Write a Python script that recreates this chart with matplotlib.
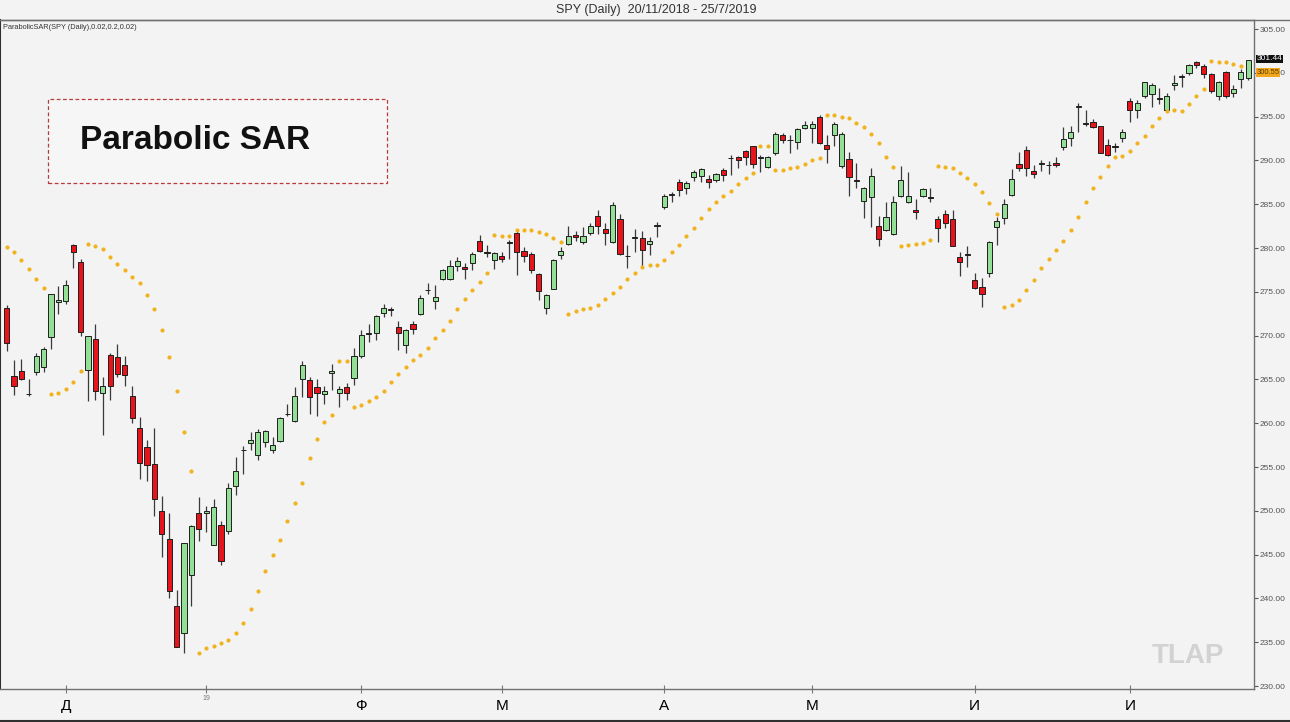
import numpy as np
import matplotlib
matplotlib.use("Agg")
import matplotlib.pyplot as plt
from matplotlib.patches import Rectangle
from matplotlib.lines import Line2D
import matplotlib.transforms as mtransforms

plt.rcParams['font.family'] = ['Liberation Sans', 'DejaVu Sans']

# 0. Data (SPY daily)
opens = [273.2, 265.4, 266.0, 263.35, 265.9, 266.4, 269.8, 273.8, 273.9, 280.4,
         278.4, 266.1, 269.6, 263.5, 267.8, 267.6, 266.7, 263.1, 259.5, 257.3,
         255.3, 250.0, 246.8, 239.1, 236.1, 242.7, 249.7, 249.7, 246.1, 248.4,
         247.7, 252.8, 256.9, 257.7, 256.4, 257.9, 256.9, 258.0, 261.0, 260.2,
         265.1, 264.9, 264.1, 263.3, 265.7, 263.5, 264.1, 265.2, 267.7, 270.2,
         270.3, 272.6, 272.9, 271.0, 268.9, 271.3, 272.5, 275.17, 274.0, 276.5,
         276.5, 277.9, 277.8, 278.3, 280.8, 279.5, 278.6, 279.1, 280.62, 281.7,
         279.7, 279.3, 277.0, 273.1, 275.3, 279.2, 280.5, 281.5, 280.7, 281.7,
         283.7, 282.2, 280.7, 283.3, 279.12, 281.1, 281.2, 280.5, 282.5, 284.7,
         286.05, 287.5, 286.9, 288.1, 288.2, 287.9, 287.8, 288.9, 290.22, 290.4,
         291.1, 291.6, 290.27, 289.2, 290.8, 292.9, 292.29, 292.1, 293.7, 293.7,
         294.9, 291.8, 292.9, 289.4, 290.2, 287.73, 285.4, 285.8, 282.5, 282.1,
         281.6, 285.9, 285.3, 284.3, 285.9, 285.75, 283.3, 283.9, 283.3, 279.0,
         279.31, 276.4, 275.5, 277.2, 282.4, 283.4, 286.1, 289.6, 291.2, 288.8,
         289.63, 289.44, 289.7, 291.5, 292.6, 296.1, 294.27, 294.4, 293.9, 291.8,
         291.6, 292.6, 296.8, 295.8, 297.3, 297.6, 297.12, 295.7, 298.6, 299.52,
         300.0, 301.2, 300.8, 299.9, 297.3, 300.1, 297.7, 299.3, 299.4]
highs = [273.5, 267.2, 267.3, 265.0, 268.0, 268.7, 274.8, 275.7, 276.4, 280.5,
         278.8, 270.0, 271.3, 265.3, 268.0, 269.1, 267.7, 264.2, 260.7, 258.1,
         259.5, 251.7, 249.8, 241.0, 246.3, 248.4, 251.6, 250.5, 251.4, 248.8,
         253.2, 256.1, 257.4, 259.0, 259.3, 259.2, 258.4, 260.7, 262.2, 264.1,
         267.1, 265.3, 265.0, 264.3, 266.8, 264.2, 264.6, 268.6, 270.6, 271.3,
         272.4, 273.6, 273.3, 271.7, 270.7, 271.7, 274.6, 276.0, 275.8, 277.6,
         278.6, 279.0, 278.3, 279.6, 281.5, 280.4, 279.6, 279.6, 280.9, 281.9,
         280.1, 279.6, 277.1, 274.8, 278.7, 280.1, 282.5, 281.9, 282.4, 282.8,
         284.3, 282.8, 285.3, 283.9, 280.3, 282.2, 281.9, 281.3, 283.0, 286.2,
         286.4, 287.9, 287.6, 288.9, 289.1, 288.3, 288.6, 289.1, 290.6, 290.5,
         291.2, 291.6, 290.6, 290.5, 293.3, 293.1, 292.9, 293.7, 294.5, 294.5,
         295.2, 292.9, 294.4, 293.3, 291.0, 289.7, 287.0, 289.1, 283.6, 285.3,
         285.9, 289.4, 288.7, 285.6, 286.9, 286.8, 283.6, 284.3, 284.3, 279.6,
         280.2, 277.2, 276.6, 280.8, 283.5, 285.6, 289.0, 291.0, 291.6, 289.5,
         290.1, 289.9, 290.4, 293.8, 293.9, 296.5, 295.8, 294.7, 293.9, 292.4,
         292.0, 293.6, 297.1, 296.9, 299.0, 298.8, 298.3, 297.7, 299.8, 299.9,
         301.0, 301.4, 301.0, 300.0, 299.1, 300.2, 298.6, 300.4, 301.5]
lows = [268.2, 263.2, 264.9, 263.1, 265.5, 265.8, 268.5, 272.5, 273.6, 277.7,
        270.0, 262.5, 262.7, 258.7, 262.6, 265.3, 264.2, 260.0, 253.6, 253.4,
        249.4, 244.7, 240.1, 234.4, 233.8, 239.1, 246.6, 247.6, 246.1, 243.8,
        247.4, 251.8, 254.2, 256.9, 255.8, 257.3, 256.6, 257.9, 260.8, 260.1,
        263.0, 261.1, 260.8, 262.2, 263.8, 261.9, 262.6, 264.4, 267.4, 269.3,
        269.5, 272.1, 272.2, 268.4, 268.0, 270.2, 272.4, 274.8, 273.0, 276.3,
        276.4, 277.4, 276.5, 277.5, 279.6, 279.0, 277.6, 278.4, 278.8, 276.9,
        278.4, 277.1, 274.1, 272.5, 275.3, 278.8, 280.4, 280.8, 280.5, 281.5,
        281.6, 280.4, 280.6, 279.2, 277.7, 279.6, 277.9, 279.2, 281.3, 284.4,
        285.3, 285.9, 286.2, 287.6, 287.5, 286.8, 287.5, 287.7, 288.3, 289.1,
        289.5, 289.1, 288.7, 289.1, 290.6, 292.0, 290.8, 291.3, 293.6, 292.0,
        291.9, 289.7, 291.6, 289.1, 285.9, 286.9, 283.4, 282.4, 280.2, 282.0,
        281.5, 285.8, 285.1, 283.3, 285.8, 285.3, 280.7, 282.3, 280.2, 276.8,
        277.8, 275.3, 273.3, 276.7, 280.4, 282.7, 285.9, 288.8, 288.2, 288.0,
        288.8, 288.5, 289.3, 291.2, 291.6, 293.3, 293.9, 293.7, 290.8, 290.5,
        291.0, 292.1, 294.4, 294.8, 297.1, 296.1, 296.4, 295.6, 298.0, 298.4,
        299.8, 300.5, 299.4, 297.7, 296.9, 297.1, 297.2, 298.3, 299.2]
closes = [269.2, 264.2, 265.1, 263.3, 267.7, 268.5, 274.7, 274.1, 275.8, 279.5,
          270.4, 270.0, 263.7, 264.2, 264.2, 265.6, 265.5, 260.6, 255.5, 255.2,
          251.4, 247.4, 240.8, 234.5, 246.3, 248.3, 247.9, 250.0, 250.4, 244.3,
          252.6, 254.5, 257.0, 258.1, 259.0, 259.1, 257.5, 260.6, 261.1, 263.1,
          266.6, 263.0, 263.5, 263.7, 266.0, 263.9, 263.5, 267.7, 270.1, 270.3,
          272.2, 273.2, 273.0, 270.3, 270.6, 270.7, 274.3, 275.24, 274.4, 277.5,
          277.9, 278.5, 277.6, 279.3, 279.7, 279.4, 279.4, 278.8, 280.68, 279.5,
          279.1, 277.5, 275.1, 274.6, 278.6, 279.7, 281.4, 281.3, 281.4, 282.5,
          282.5, 281.7, 284.9, 279.3, 279.05, 281.25, 279.8, 280.8, 282.6, 285.9,
          286.2, 286.6, 287.4, 288.7, 289.0, 287.5, 288.5, 288.3, 290.3, 290.1,
          290.4, 289.6, 290.35, 290.4, 293.0, 292.3, 292.37, 293.6, 294.0, 294.2,
          292.0, 291.3, 294.2, 293.0, 288.1, 287.65, 286.8, 288.2, 281.0, 283.5,
          285.2, 287.8, 285.9, 284.1, 286.7, 285.7, 282.3, 282.9, 280.2, 278.4,
          279.25, 275.4, 274.8, 280.7, 283.1, 285.0, 287.9, 289.1, 289.1, 288.5,
          289.7, 289.5, 289.5, 292.5, 293.3, 296.2, 294.19, 293.8, 290.9, 290.6,
          291.55, 293.2, 295.8, 296.6, 298.9, 298.6, 297.05, 297.3, 298.8, 299.6,
          300.9, 300.9, 299.9, 297.9, 299.0, 297.4, 298.1, 300.1, 301.44]

# Parabolic SAR (0.02, 0.2, 0.02) dots
sar = [280.1, 279.5, 278.6, 277.6, 276.5, 275.4,
       263.3, 263.5, 263.9, 264.7, 266.0,
       280.5, 280.2, 279.9, 279.0, 278.2, 277.5, 276.7, 276.0, 274.6, 273.0,
       270.6, 267.6, 263.7, 259.0, 254.5,
       233.8, 234.3, 234.6, 234.9, 235.3, 236.0, 237.2, 238.8, 240.9, 243.1,
       245.0, 246.7, 248.8, 250.9, 253.2, 256.0, 258.2, 260.1,
       260.9,
       267.1, 267.1,
       261.9, 262.1, 262.5, 263.0, 263.7, 264.7, 265.6, 266.4, 267.2, 267.8,
       268.6, 269.7, 270.6, 271.7, 273.0, 274.2, 275.2, 276.1, 277.1,
       281.5, 281.4, 281.4, 282.1, 282.1, 282.1, 281.8, 281.6, 281.2, 280.7,
       272.5, 272.8, 273.0, 273.2, 273.5, 274.2, 274.9, 275.6, 276.5, 277.2,
       277.8, 278.1, 278.1, 278.6, 279.5, 280.3, 281.4, 282.3, 283.4, 284.4,
       285.3, 285.9, 286.5, 287.3, 288.0, 288.6,
       291.6, 291.6,
       288.9, 288.9, 289.1, 289.3, 289.6, 290.0, 290.3,
       295.2, 295.2, 295.0, 294.8, 294.3, 293.8, 293.0, 292.0, 290.4, 289.3,
       280.2, 280.3, 280.5, 280.6, 280.9,
       289.4, 289.3, 289.1, 288.6, 288.0, 287.3, 286.4, 285.1, 283.9,
       273.3, 273.5, 274.1, 275.2, 276.4, 277.7, 278.7, 279.8, 280.8, 282.1,
       283.5, 285.2, 286.9, 288.1, 289.4, 290.4, 290.5, 291.1, 292.0, 292.8,
       293.9, 294.8, 295.6, 295.7, 295.6, 296.4, 297.4, 298.2,
       301.4, 301.2, 301.2, 301.0, 300.8,
       np.nan]
last_sar = 300.55

# first trading day of each month (bar index) and labels
month_idx = [8, 27, 48, 67, 89, 109, 131, 152]
month_lbl = ['Д', '19', 'Ф', 'М', 'А', 'М', 'И', 'И']

o = np.array(opens); h = np.array(highs); l = np.array(lows); c = np.array(closes)
x = np.arange(len(c))

bg = '#f3f3f3'
fig = plt.figure(figsize=(12.9, 7.22), dpi=100, facecolor=bg)
ax = fig.add_axes([0.0, 0.0457, 0.9721, 0.9266], facecolor=bg)

#1. candles
up = c >= o
ax.vlines(x, l, h, color='#3a3a3a', lw=0.9, zorder=2)
body_bot = np.minimum(o, c)
body_h = np.maximum(np.abs(c - o), 0.07)
ax.bar(x[up], body_h[up], bottom=body_bot[up], width=0.7,
       color='#92df95', edgecolor='#1e1e1e', linewidth=0.7, zorder=3)
ax.bar(x[~up], body_h[~up], bottom=body_bot[~up], width=0.7,
       color='#e8141c', edgecolor='#1e1e1e', linewidth=0.7, zorder=3)

#2. SAR dots
ax.scatter(x, sar, s=9, color='#f0b21e', zorder=4, linewidths=0)

#3. axes
ax.set_xlim(-0.9, 168.8)
ax.set_ylim(229.66, 306.03)
ax.yaxis.tick_right()
ax.set_yticks(np.arange(230, 306, 5))
ax.set_yticklabels(['%.2f' % v for v in np.arange(230, 306, 5)])
ax.tick_params(axis='y', labelsize=6, colors='#555555', length=3, width=0.8, pad=1)
ax.set_xticks(month_idx)
ax.set_xticklabels(month_lbl)
ax.tick_params(axis='x', labelsize=11, length=6, direction='inout', width=0.8,
               color='#777777', pad=4)
for t in ax.get_xticklabels():
    if t.get_text() == '19':
        t.set_fontsize(5)
        t.set_color('#777777')
        t.set_y(0.006)
for s in ['top', 'bottom', 'right']:
    ax.spines[s].set_color('#707070')
    ax.spines[s].set_linewidth(1.0)
ax.spines['left'].set_color('#303030')
ax.spines['left'].set_linewidth(1.5)

# price tags on the right axis
tr = mtransforms.blended_transform_factory(ax.transAxes, ax.transData)
ax.text(1.002, 300.05, '%.2f' % last_sar, transform=tr, fontsize=5.5,
        color='#5a3a00', va='center', ha='left', clip_on=False, zorder=5,
        bbox=dict(boxstyle='square,pad=0.1', fc='#f2a81e', ec='none'))
ax.text(1.002, closes[-1] + 0.15, '%.2f' % closes[-1], transform=tr, fontsize=6,
        color='white', va='center', ha='left', clip_on=False, zorder=6,
        bbox=dict(boxstyle='square,pad=0.1', fc='#111111', ec='none'))

#4. texts
fig.text(0.509, 0.986, 'SPY (Daily)  20/11/2018 - 25/7/2019', fontsize=9,
         color='#333333', ha='center', va='center')
fig.text(0.002, 0.962, 'ParabolicSAR(SPY (Daily),0.02,0.2,0.02)', fontsize=5.3,
         color='#333333', ha='left', va='center')
fig.add_artist(Rectangle((0.0372, 0.7465), 0.2628, 0.1163, transform=fig.transFigure,
                         fc='#f6f6f6', ec='#b83a3a', lw=0.9, ls=(0, (3, 2))))
fig.text(0.062, 0.806, 'Parabolic SAR', fontsize=24, fontweight='bold',
         color='#111111', ha='left', va='center')
fig.text(0.921, 0.0914, 'TLAP', fontsize=20, fontweight='bold',
         color='#d2d2d2', ha='center', va='center')
fig.add_artist(Line2D([0, 1], [0.9723, 0.9723], transform=fig.transFigure,
                      color='#707070', lw=1.0))
fig.add_artist(Line2D([0, 1], [0.002, 0.002], transform=fig.transFigure,
                      color='#303030', lw=1.5))

fig.savefig('out.png', dpi=100, facecolor=bg)
